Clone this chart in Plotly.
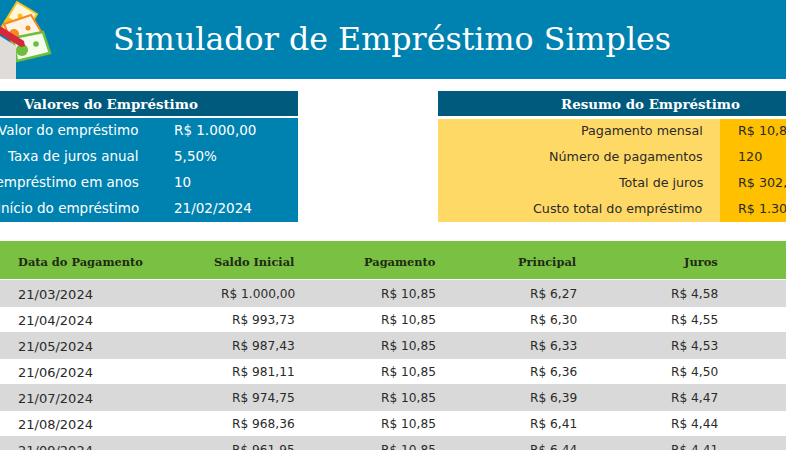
import plotly.graph_objects as go

W = 786
H = 450

title = 'Simulador de Empréstimo Simples'

left_header = 'Valores do Empréstimo'
left_labels = ['Valor do empréstimo', 'Taxa de juros anual', 'Prazo do empréstimo em anos', 'Início do empréstimo']
left_values = ['R$ 1.000,00', '5,50%', '10', '21/02/2024']

right_header = 'Resumo do Empréstimo'
right_labels = ['Pagamento mensal', 'Número de pagamentos', 'Total de juros', 'Custo total do empréstimo']
right_values = ['R$ 10,85', '120', 'R$ 302,33', 'R$ 1.302,33']

columns = ['Data do Pagamento', 'Saldo Inicial', 'Pagamento', 'Principal', 'Juros']
datas = ['21/03/2024', '21/04/2024', '21/05/2024', '21/06/2024', '21/07/2024', '21/08/2024', '21/09/2024']
saldo = ['R$ 1.000,00', 'R$ 993,73', 'R$ 987,43', 'R$ 981,11', 'R$ 974,75', 'R$ 968,36', 'R$ 961,95']
pagamento = ['R$ 10,85'] * 7
principal = ['R$ 6,27', 'R$ 6,30', 'R$ 6,33', 'R$ 6,36', 'R$ 6,39', 'R$ 6,41', 'R$ 6,44']
juros = ['R$ 4,58', 'R$ 4,55', 'R$ 4,53', 'R$ 4,50', 'R$ 4,47', 'R$ 4,44', 'R$ 4,41']

BLUE = '#0082B0'
DARK = '#005A7D'
GREEN = '#7AC143'
SOFT = '#FFD966'
GOLD = '#FFC000'
GREY = '#D9D9D9'
SANS = 'DejaVu Sans'
SLAB = 'DejaVu Serif'


def rect(x0, y0, x1, y1, color):
    return dict(type='rect', x0=x0, y0=y0, x1=x1, y1=y1, fillcolor=color, line_width=0, layer='below')


def poly(points, color, line=None, width=2):
    path = 'M ' + ' L '.join(f'{x},{y}' for x, y in points) + ' Z'
    return dict(type='path', path=path, fillcolor=color, line=dict(color=line or color, width=width if line else 0), layer='below')


def dot(cx, cy, r, color):
    return dict(type='circle', x0=cx - r, y0=cy - r, x1=cx + r, y1=cy + r, fillcolor=color, line_width=0, layer='below')


def label(x, y, text, anchor='left', size=12.2, color='#2A2A2A', font=SANS, bold=False):
    return dict(x=x, y=y, text=f'<b>{text}</b>' if bold else text, xanchor=anchor, yanchor='middle',
                showarrow=False, borderpad=0, font=dict(family=font, size=size, color=color))


shapes = [
    rect(0, 0, W, 79, BLUE),
    # painel esquerdo
    rect(0, 91, 298, 116, DARK),
    rect(0, 118, 298, 222, BLUE),
    # painel direito
    rect(438, 91, W, 116, DARK),
    rect(438, 119, 720, 222, SOFT),
    rect(720, 119, W, 222, GOLD),
    # tabela
    rect(0, 241, W, 279, GREEN),
    rect(0, 280, W, 281, GREY),
]

# linhas alternadas
row_edges = [281, 307, 332, 359, 384, 411, 436, 450]
for i in range(0, len(row_edges) - 1, 2):
    shapes.append(rect(0, row_edges[i], W, row_edges[i + 1], GREY))

# icone das notas
shapes += [
    poly([(17, 2), (37, 14), (20, 42), (0, 30)], '#FFF6DC', '#F9C21A'),
    dot(20, 16, 2.5, '#F9C21A'),
    dot(9, 23, 5, '#F9C21A'),
    poly([(4, 24), (31, 15), (42, 33), (15, 50)], '#FFF3E6', '#F58A1F'),
    dot(28, 28, 2.5, '#F58A1F'),
    dot(14, 34, 5, '#F58A1F'),
    poly([(13, 38), (43, 32), (50, 53), (17, 61)], '#F5FBEF', '#6DBE3A', 2.5),
    dot(36, 44, 2.8, '#6DBE3A'),
    dot(22, 50, 6, '#6DBE3A'),
    poly([(0, 36), (16, 46), (16, 79), (0, 79)], '#E0DCDA'),
    poly([(0, 26), (24, 41), (25, 46), (21, 47), (0, 34)], '#D9263C'),
]

annotations = [label(392, 39, title, 'center', 31.7, 'white', SLAB)]

annotations.append(label(110.5, 104, left_header, 'center', 13.4, 'white', SLAB, True))
annotations.append(label(650.5, 104, right_header, 'center', 13.4, 'white', SLAB, True))

panel_rows = [130, 156, 182, 208]
for y, lab, val in zip(panel_rows, left_labels, left_values):
    annotations.append(label(140, y, lab, 'right', 13.5, 'white'))
    annotations.append(label(173, y, val, 'left', 13.5, 'white'))
for y, lab, val in zip(panel_rows, right_labels, right_values):
    annotations.append(label(704, y, lab, 'right', 12.7))
    annotations.append(label(737, y, val, 'left', 12.7))

header_right = [None, 296, 437, 578, 719]
annotations.append(label(17, 262, columns[0], 'left', 11.4, '#1E2B14', SLAB, True))
for col, x in zip(columns[1:], header_right[1:]):
    annotations.append(label(x, 262, col, 'right', 11.4, '#1E2B14', SLAB, True))

for i in range(len(datas)):
    y = 294 + 26 * i
    annotations.append(label(17, y, datas[i], size=13))
    annotations.append(label(296, y, saldo[i], 'right'))
    annotations.append(label(437, y, pagamento[i], 'right'))
    annotations.append(label(578, y, principal[i], 'right'))
    annotations.append(label(719, y, juros[i], 'right'))

fig = go.Figure()
fig.update_layout(
    width=W, height=H,
    margin=dict(l=0, r=0, t=0, b=0),
    paper_bgcolor='white', plot_bgcolor='white',
    xaxis=dict(range=[0, W], visible=False, fixedrange=True),
    yaxis=dict(range=[H, 0], visible=False, fixedrange=True),
    shapes=shapes,
    annotations=annotations,
    showlegend=False,
)
fig.write_html('out.html', config=dict(displayModeBar=False),
               post_script="document.body.style.margin='0';document.body.style.overflow='hidden';")
